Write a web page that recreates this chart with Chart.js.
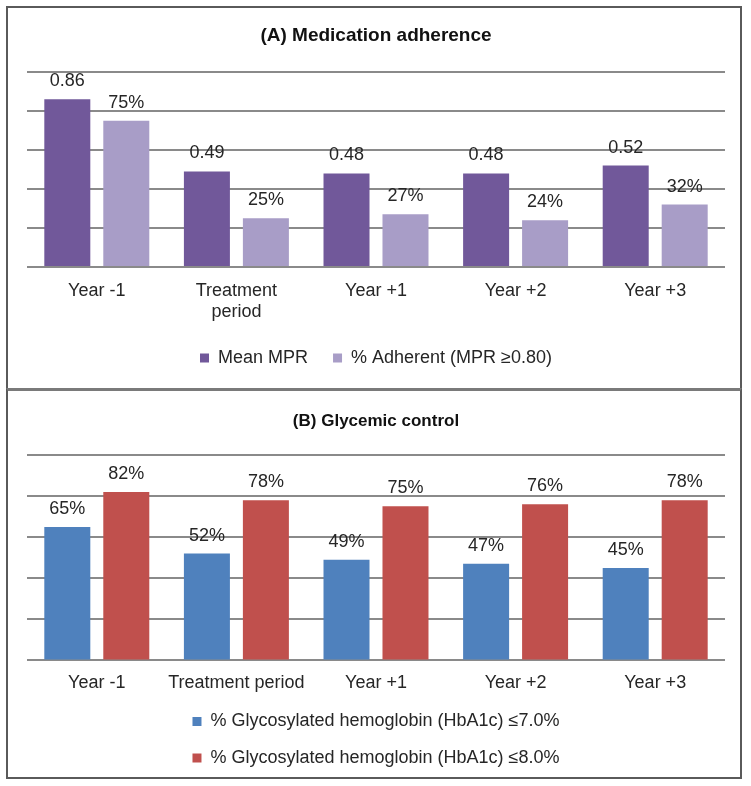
<!DOCTYPE html>
<html>
<head>
<meta charset="utf-8">
<script src="https://cdn.jsdelivr.net/npm/chart.js@4/dist/chart.umd.min.js"></script>
<style>
  body { margin: 0; background: #fff; }
  .panel { position: absolute; left: 6px; width: 732px; border: 2px solid #5a5a5a; background: #fff; }
  #panelA { top: 6px; height: 380px; }
  #panelB { top: 388px; height: 386px; border-top: 3px solid #7a7a7a; }
  .panel div { position: relative; width: 732px; height: 100%; }
</style>
</head>
<body>
<div class="panel" id="panelA"><div><canvas id="chartA"></canvas></div></div>
<div class="panel" id="panelB"><div><canvas id="chartB"></canvas></div></div>
<script>
// panel A
let categoriesA = ["Year -1", ["Treatment", "period"], "Year +1", "Year +2", "Year +3"];
let meanMPR = [0.86, 0.49, 0.48, 0.48, 0.52];
let adherentShare = [0.75, 0.25, 0.27, 0.24, 0.32];

// panel B
let categoriesB = ["Year -1", "Treatment period", "Year +1", "Year +2", "Year +3"];
let hba1cUnder7 = [65, 52, 49, 47, 45];
let hba1cUnder8 = [82, 78, 75, 76, 78];

const FONT = "'Liberation Sans', Arial, sans-serif";
Chart.defaults.font.family = FONT;
Chart.defaults.font.size = 18;
Chart.defaults.color = "#262626";

// draws the number above each bar
function valueLabels(formats) {
    return {
        id: "valueLabels",
        afterDatasetsDraw(chart) {
            let ctx = chart.ctx;
            ctx.save();
            ctx.font = "18px " + FONT;
            ctx.fillStyle = "#262626";
            ctx.textAlign = "center";
            ctx.textBaseline = "alphabetic";
            chart.data.datasets.forEach((ds, i) => {
                chart.getDatasetMeta(i).data.forEach((bar, j) => {
                    ctx.fillText(formats[i](ds.data[j]), bar.x, bar.y - 13);
                });
            });
            ctx.restore();
        }
    };
}

function options(title, titleSize, titlePad, max, step, tickPad, axisHeight, legendPad, bottomPad) {
    return {
        responsive: true,
        maintainAspectRatio: false,
        animation: false,
        layout: { padding: { left: 19, right: 15, top: 0, bottom: bottomPad } },
        plugins: {
            title: {
                display: true,
                text: title,
                font: { size: titleSize, weight: "bold" },
                color: "#111",
                padding: titlePad
            },
            legend: {
                position: "bottom",
                labels: { boxWidth: 9, boxHeight: 9, padding: legendPad, font: { size: 18 } }
            },
            tooltip: { enabled: false }
        },
        scales: {
            x: {
                grid: { display: false, drawTicks: false },
                border: { display: false },
                ticks: { padding: tickPad, maxRotation: 0, autoSkip: false },
                afterFit: (scale) => { scale.height = axisHeight; }
            },
            y: {
                min: 0,
                max: max,
                ticks: { display: false, stepSize: step },
                grid: { color: "#8a8a8a", lineWidth: 2, drawTicks: false },
                border: { display: false }
            }
        }
    };
}

new Chart(document.getElementById("chartA").getContext("2d"), {
    type: "bar",
    data: {
        labels: categoriesA,
        datasets: [
            {
                label: "Mean MPR",
                data: meanMPR,
                backgroundColor: "#71589a",
                categoryPercentage: 0.845,
                barPercentage: 0.78
            },
            {
                label: "% Adherent (MPR \u22650.80)",
                data: adherentShare,
                backgroundColor: "#a89dc7",
                categoryPercentage: 0.845,
                barPercentage: 0.78
            }
        ]
    },
    options: options("(A) Medication adherence", 19, { top: 16.6, bottom: 24.6 }, 1, 0.2, 13, 57, 25, 11),
    plugins: [valueLabels([v => v.toFixed(2), v => Math.round(v * 100) + "%"])]
});

new Chart(document.getElementById("chartB").getContext("2d"), {
    type: "bar",
    data: {
        labels: categoriesB,
        datasets: [
            {
                label: "% Glycosylated hemoglobin (HbA1c) \u22647.0%",
                data: hba1cUnder7,
                backgroundColor: "#4f81bd",
                categoryPercentage: 0.845,
                barPercentage: 0.78
            },
            {
                label: "% Glycosylated hemoglobin (HbA1c) \u22648.0%",
                data: hba1cUnder8,
                backgroundColor: "#c0504d",
                categoryPercentage: 0.845,
                barPercentage: 0.78
            }
        ]
    },
    options: options("(B) Glycemic control", 17, { top: 20, bottom: 23.6 }, 100, 20, 12, 33.6, 18.5, 0),
    plugins: [valueLabels([v => v + "%", v => v + "%"])]
});
</script>
</body>
</html>
